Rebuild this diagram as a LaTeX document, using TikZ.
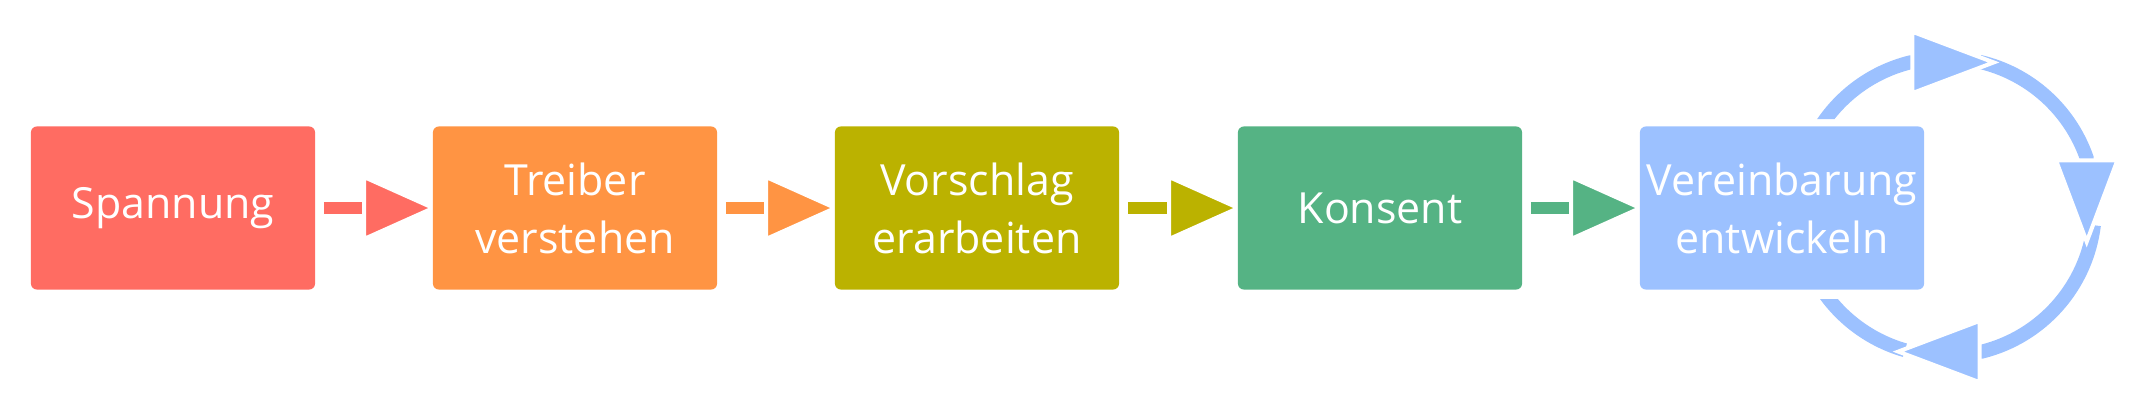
\documentclass[tikz,border=0pt]{standalone}
\usepackage{fontspec}
\setmainfont{Open Sans}
\usetikzlibrary{arrows.meta,backgrounds}

\definecolor{spannung}{HTML}{FF6C62}
\definecolor{treiber}{HTML}{FF9443}
\definecolor{vorschlag}{HTML}{BBB200}
\definecolor{konsent}{HTML}{55B384}
\definecolor{vereinbarung}{HTML}{9CC1FF}

\begin{document}
\begin{tikzpicture}[x=0.01cm, y=0.01cm,
        stage/.style={fill=#1, text=white, rounded corners=0.6mm, inner sep=0pt,
            minimum width=2.84cm, minimum height=1.63cm, align=center,
            font=\fontsize{12.2}{16.5}\selectfont},
        flow/.style={draw=#1, line width=1.2mm, shorten <=0.8mm, shorten >=-0.6mm,
            -{Triangle[length=7.6mm, width=6.7mm, color=white, fill=#1, line width=0.4mm]}},
        loopflow/.style={draw=vereinbarung, line width=1.4mm,
            -{Triangle[length=8.9mm, width=6.6mm, color=white, fill=vereinbarung, line width=0.4mm]}}]
        \useasboundingbox (0,0) rectangle (2138,408);

        % Draw the five stages
        \node[stage=spannung] (s1) at (173,200) {Spannung};
        \node[stage=treiber] (s2) at (575,200) {Treiber\\verstehen};
        \node[stage=vorschlag] (s3) at (977,200) {Vorschlag\\erarbeiten};
        \node[stage=konsent] (s4) at (1380,200) {Konsent};
        \node[stage=vereinbarung] (s5) at (1782,200) {Vereinbarung\\entwickeln};

        % Draw the arrows between the stages
        \begin{scope}[on background layer]
            \draw[flow=spannung] (s1) -- (s2);
            \draw[flow=treiber] (s2) -- (s3);
            \draw[flow=vorschlag] (s3) -- (s4);
            \draw[flow=konsent] (s4) -- (s5);
        \end{scope}

        % Draw the loop round the last stage, last piece first
        \coordinate (hub) at (1946,201);
        \begin{scope}
            \clip (1700,0) -- (2138,0) -- (2138,408) -- (1700,408) -- (1700,289)
                -- (1935,289) -- (1935,109) -- (1700,109) -- cycle;
            \draw[draw=vereinbarung, line width=1.4mm] ([shift={(-106:149)}]hub)
                arc[start angle=-106, end angle=-150, radius=149];
            \draw[loopflow] ([shift={(-7:149)}]hub) arc[start angle=-7, end angle=-76, radius=149]
                -- ++(-89.5,0);
            \draw[loopflow] ([shift={(77:149)}]hub) arc[start angle=77, end angle=19.2, radius=149]
                -- ++(0,-89.5);
            \draw[loopflow] ([shift={(150:149)}]hub) arc[start angle=150, end angle=104, radius=149]
                -- ++(89.5,0);
        \end{scope}

    \end{tikzpicture}
\end{document}
